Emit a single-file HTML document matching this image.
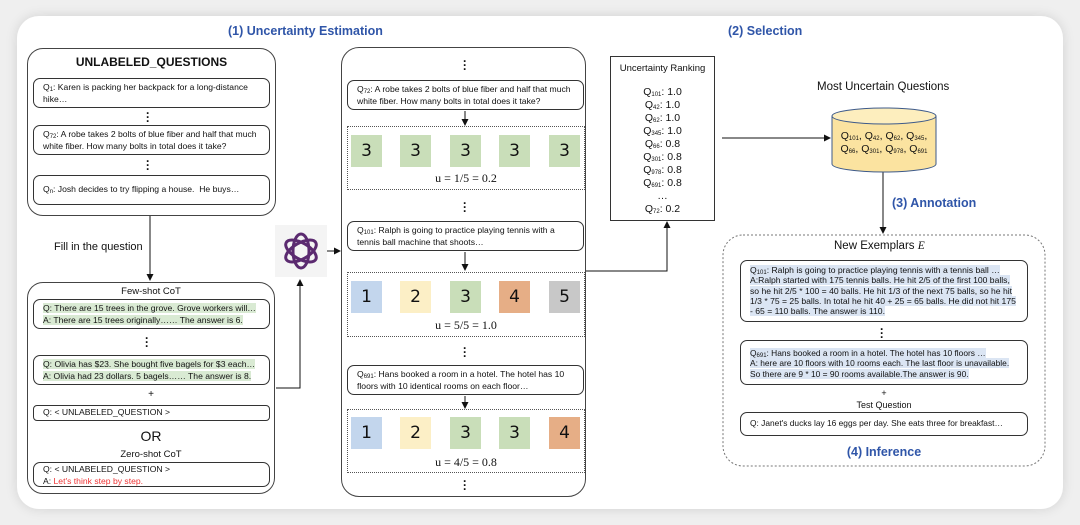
<!DOCTYPE html>
<html><head><meta charset="utf-8"><style>
*{margin:0;padding:0;box-sizing:border-box}
body{width:1080px;height:525px;background:#efefef;position:relative;overflow:hidden;font-family:"Liberation Sans",sans-serif;color:#111}
.a{position:absolute}
.panel{left:17px;top:16px;width:1046px;height:493px;background:#fff;border-radius:22px;box-shadow:0 0 12px rgba(0,0,0,.12)}
.rb{position:absolute;border:1.3px solid #333;border-radius:7px;background:#fff;font-size:8.6px;line-height:11.5px;padding:3px 9px}
.big{position:absolute;border:1px solid #444;border-radius:16px}
.blue{color:#2f55a8;font-weight:bold;font-size:12.5px}
.dots{position:absolute;font-size:12px;font-weight:bold;line-height:4px;text-align:center;width:10px}
.dot{position:absolute;border:1.3px dotted #555}
.sq{position:absolute;width:31px;height:32px;font-size:17px;text-align:center;line-height:32px;font-family:"DejaVu Sans",sans-serif}
.g{background:#c9deb9}.b{background:#c3d6ed}.y{background:#fcefc6}.o{background:#e6ae86}.gr{background:#c8c8c8}
.u{position:absolute;font-family:"Liberation Serif",serif;font-size:12px;text-align:center}
.hg{background:#d9ead3}.hb{background:#dbe5f3}
sub{font-size:6px;vertical-align:-1px;line-height:0}
.c{text-align:center}
</style></head><body>
<div class="a panel"></div>
<div class="a blue" style="left:228px;top:24px">(1) Uncertainty Estimation</div>
<div class="a blue" style="left:728px;top:24px">(2) Selection</div>

<svg class="a" style="left:0;top:0" width="1080" height="525">
<defs><marker id="ar" markerWidth="7" markerHeight="7" refX="6" refY="3.5" orient="auto"><path d="M0,0L7,3.5L0,7z" fill="#111"/></marker></defs>
<g stroke="#111" stroke-width="1" fill="none">
<line x1="150" y1="216" x2="150" y2="280" marker-end="url(#ar)"/>
<polyline points="276,388 300,388 300,280" marker-end="url(#ar)"/>
<line x1="327" y1="251" x2="340" y2="251" marker-end="url(#ar)"/>
<line x1="465" y1="111" x2="465" y2="125" marker-end="url(#ar)"/>
<line x1="465" y1="252" x2="465" y2="270" marker-end="url(#ar)"/>
<line x1="465" y1="396" x2="465" y2="408" marker-end="url(#ar)"/>
<polyline points="586,271 667,271 667,222" marker-end="url(#ar)"/>
<line x1="722" y1="138" x2="830" y2="138" marker-end="url(#ar)"/>
<line x1="883" y1="171" x2="883" y2="233" marker-end="url(#ar)"/>
</g>
<rect x="275" y="225" width="52" height="52" fill="#f4f4f4"/>
<g fill="none" stroke="#5b2a70" stroke-width="3" transform="translate(301,251)">
<ellipse rx="8" ry="17" transform="rotate(0)"/>
<ellipse rx="8" ry="17" transform="rotate(60)"/>
<ellipse rx="8" ry="17" transform="rotate(120)"/>
</g>
<path d="M832,116 L832,164 A52,8 0 0 0 936,164 L936,116" fill="#fbe3a0" stroke="#3d5a8a" stroke-width="1"/>
<ellipse cx="884" cy="116" rx="52" ry="8" fill="#fdeebe" stroke="#3d5a8a" stroke-width="1"/>
<rect x="723" y="235" width="322" height="231" rx="20" fill="none" stroke="#777" stroke-dasharray="2,2"/>
</svg>

<div class="big" style="left:27px;top:48px;width:249px;height:168px"></div>
<div class="a c" style="left:27px;top:55px;width:249px;font-weight:bold;font-size:12px">UNLABELED_QUESTIONS</div>
<div class="rb" style="left:33px;top:78px;width:237px;height:30px">Q<sub>1</sub>: Karen is packing her backpack for a long-distance hike…</div>
<div class="dots" style="left:143px;top:111px">·<br>·<br>·</div>
<div class="rb" style="left:33px;top:125px;width:237px;height:30px">Q<sub>72</sub>: A robe takes 2 bolts of blue fiber and half that much white fiber. How many bolts in total does it take?</div>
<div class="dots" style="left:143px;top:159px">·<br>·<br>·</div>
<div class="rb" style="left:33px;top:175px;width:237px;height:30px;padding-top:8px">Q<sub>n</sub>: Josh decides to try flipping a house.&nbsp; He buys…</div>
<div class="a" style="left:54px;top:241px;font-size:11px">Fill in the question</div>

<div class="big" style="left:27px;top:282px;width:248px;height:212px"></div>
<div class="a c" style="left:27px;top:286px;width:248px;font-size:9.5px">Few-shot CoT</div>
<div class="rb" style="left:33px;top:299px;width:237px;height:30px"><span class="hg">Q: There are 15 trees in the grove. Grove workers will…</span><br><span class="hg">A: There are 15 trees originally…… The answer is 6.</span></div>
<div class="dots" style="left:142px;top:336px">·<br>·<br>·</div>
<div class="rb" style="left:33px;top:355px;width:237px;height:30px"><span class="hg">Q: Olivia has $23. She bought five bagels for $3 each…</span><br><span class="hg">A: Olivia had 23 dollars. 5 bagels…… The answer is 8.</span></div>
<div class="a c" style="left:27px;top:389px;width:248px;font-size:10px">+</div>
<div class="rb" style="left:33px;top:405px;width:237px;height:16px;padding-top:1px;border-radius:4px">Q: &lt; UNLABELED_QUESTION &gt;</div>
<div class="a c" style="left:27px;top:428px;width:248px;font-size:14px">OR</div>
<div class="a c" style="left:27px;top:449px;width:248px;font-size:9.5px">Zero-shot CoT</div>
<div class="rb" style="left:33px;top:462px;width:237px;height:25px;padding-top:1px">Q: &lt; UNLABELED_QUESTION &gt;<br>A: <span style="color:#e33">Let's think step by step.</span></div>

<div class="big" style="left:341px;top:47px;width:245px;height:450px;border-radius:18px"></div>
<div class="dots" style="left:460px;top:59px">·<br>·<br>·</div>
<div class="rb" style="left:347px;top:80px;width:237px;height:30px">Q<sub>72</sub>: A robe takes 2 bolts of blue fiber and half that much white fiber. How many bolts in total does it take?</div>
<div class="dot" style="left:347px;top:126px;width:238px;height:64px"></div>
<div class="sq g" style="left:351px;top:135px">3</div><div class="sq g" style="left:400px;top:135px">3</div><div class="sq g" style="left:450px;top:135px">3</div><div class="sq g" style="left:499px;top:135px">3</div><div class="sq g" style="left:549px;top:135px">3</div>
<div class="u" style="left:347px;top:171px;width:238px">u = 1/5 = 0.2</div>
<div class="dots" style="left:460px;top:201px">·<br>·<br>·</div>
<div class="rb" style="left:347px;top:221px;width:237px;height:30px">Q<sub>101</sub>: Ralph is going to practice playing tennis with a tennis ball machine that shoots…</div>
<div class="dot" style="left:347px;top:272px;width:238px;height:65px"></div>
<div class="sq b" style="left:351px;top:281px">1</div><div class="sq y" style="left:400px;top:281px">2</div><div class="sq g" style="left:450px;top:281px">3</div><div class="sq o" style="left:499px;top:281px">4</div><div class="sq gr" style="left:549px;top:281px">5</div>
<div class="u" style="left:347px;top:318px;width:238px">u = 5/5 = 1.0</div>
<div class="dots" style="left:460px;top:346px">·<br>·<br>·</div>
<div class="rb" style="left:347px;top:365px;width:237px;height:30px">Q<sub>691</sub>: Hans booked a room in a hotel. The hotel has 10 floors with 10 identical rooms on each floor…</div>
<div class="dot" style="left:347px;top:409px;width:238px;height:64px"></div>
<div class="sq b" style="left:351px;top:417px">1</div><div class="sq y" style="left:400px;top:417px">2</div><div class="sq g" style="left:450px;top:417px">3</div><div class="sq g" style="left:499px;top:417px">3</div><div class="sq o" style="left:549px;top:417px">4</div>
<div class="u" style="left:347px;top:455px;width:238px">u = 4/5 = 0.8</div>
<div class="dots" style="left:460px;top:479px">·<br>·<br>·</div>

<div class="a" style="left:610px;top:56px;width:105px;height:165px;border:1.3px solid #333"></div>
<div class="a c" style="left:610px;top:63px;width:105px;font-size:9.5px">Uncertainty Ranking</div>
<div class="a c" style="left:610px;top:86px;width:105px;font-size:10.5px;line-height:13px">Q<sub>101</sub>: 1.0<br>Q<sub>42</sub>: 1.0<br>Q<sub>62</sub>: 1.0<br>Q<sub>345</sub>: 1.0<br>Q<sub>66</sub>: 0.8<br>Q<sub>301</sub>: 0.8<br>Q<sub>978</sub>: 0.8<br>Q<sub>691</sub>: 0.8<br>…<br>Q<sub>72</sub>: 0.2</div>

<div class="a" style="left:817px;top:81px;font-size:11.5px">Most Uncertain Questions</div>
<div class="a c" style="left:828px;top:130px;width:112px;font-size:10.5px;line-height:13px">Q<sub>101</sub>, Q<sub>42</sub>, Q<sub>62</sub>, Q<sub>345</sub>,<br>Q<sub>66</sub>, Q<sub>301</sub>, Q<sub>978</sub>, Q<sub>691</sub></div>
<div class="a blue" style="left:892px;top:196px">(3) Annotation</div>

<div class="a" style="left:834px;top:240px;font-size:11.5px">New Exemplars <i style="font-family:'Liberation Serif',serif">E</i></div>
<div class="rb" style="left:740px;top:260px;width:288px;height:62px;font-size:8.6px;line-height:10.3px;padding:4px 9px"><span class="hb">Q<sub>101</sub>: Ralph is going to practice playing tennis with a tennis ball …<br>A:Ralph started with 175 tennis balls. He hit 2/5 of the first 100 balls, so he hit 2/5 * 100 = 40 balls. He hit 1/3 of the next 75 balls, so he hit 1/3 * 75 = 25 balls. In total he hit 40 + 25 = 65 balls. He did not hit 175 - 65 = 110 balls. The answer is 110.</span></div>
<div class="dots" style="left:877px;top:327px">·<br>·<br>·</div>
<div class="rb" style="left:740px;top:340px;width:288px;height:45px;font-size:8.4px;line-height:10.3px;padding:7px 9px"><span class="hb">Q<sub>691</sub>: Hans booked a room in a hotel. The hotel has 10 floors …<br>A: here are 10 floors with 10 rooms each. The last floor is unavailable.<br>So there are 9 * 10 = 90 rooms available.The answer is 90.</span></div>
<div class="a c" style="left:723px;top:388px;width:322px;font-size:9px">+</div>
<div class="a c" style="left:723px;top:400px;width:322px;font-size:9px">Test Question</div>
<div class="rb" style="left:740px;top:412px;width:288px;height:24px;font-size:8.4px;padding-top:5px">Q: Janet's ducks lay 16 eggs per day. She eats three for breakfast…</div>
<div class="a blue c" style="left:723px;top:445px;width:322px">(4) Inference</div>
</body></html>
